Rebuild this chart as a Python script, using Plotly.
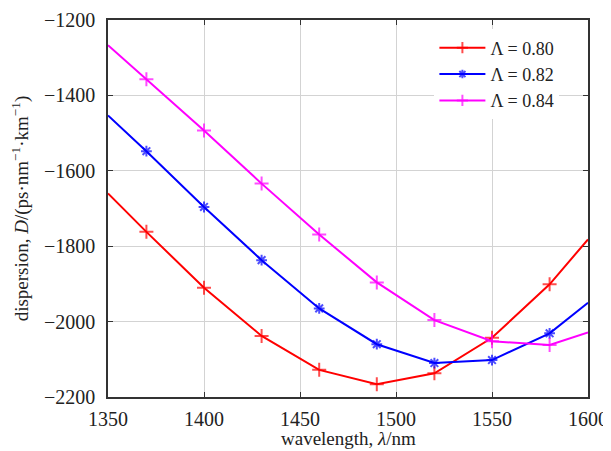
import plotly.graph_objects as go

wavelength = [1350, 1370, 1400, 1430, 1460, 1490, 1520, 1550, 1580, 1600]
d_080 = [-1660, -1762, -1910, -2038, -2128, -2166, -2137, -2043, -1901, -1782]
d_082 = [-1453, -1548, -1696, -1837, -1965, -2060, -2110, -2102, -2031, -1950]
d_084 = [-1267, -1357, -1493, -1634, -1769, -1896, -1996, -2052, -2062, -2029]

series = [
    ("Λ = 0.80", d_080, "#ff0000", "cross-thin-open", 10),
    ("Λ = 0.82", d_082, "#0000ff", "asterisk-open", 9),
    ("Λ = 0.84", d_084, "#ff00ff", "cross-thin-open", 10),
]

font = "Liberation Serif"
fig = go.Figure()
for name, ys, col, sym, sz in series:
    # no markers on the two end points (as in the reference)
    sizes = [0] + [sz] * (len(ys) - 2) + [0]
    fig.add_trace(go.Scatter(
        x=wavelength, y=ys, name=name, mode="lines+markers",
        line=dict(color=col, width=2),
        marker=dict(symbol=sym, size=sizes, color=col, line=dict(color=col, width=2)),
    ))

axis_common = dict(
    showgrid=True, gridcolor="#d3d3d3", gridwidth=1,
    showline=True, linecolor="#333333", linewidth=1.5, mirror="ticks",
    ticks="inside", ticklen=5, tickcolor="#333333",
    zeroline=False, automargin=False,
    tickfont=dict(family=font, size=20, color="#222"),
    title_font=dict(family=font, size=19, color="#222"),
)

fig.update_xaxes(range=[1350, 1600], dtick=50, ticklabelstandoff=3, **axis_common)
fig.update_yaxes(range=[-2200, -1200], dtick=200,
                 title_text="dispersion, <i>D</i>/(ps·nm<sup>−1</sup>·km<sup>−1</sup>)",
                 title_standoff=12, ticklabelstandoff=7, **axis_common)

# x-axis title as an annotation for exact placement
fig.add_annotation(text="wavelength, <i>λ</i>/nm", xref="paper", yref="paper",
                   x=0.5, y=0, xanchor="center", yanchor="top", yshift=-29,
                   showarrow=False, font=dict(family=font, size=19, color="#222"))

# page body has an 8px margin: figure is 603x443 placed at (8, 8)
fig.update_layout(
    width=603, height=443,
    margin=dict(l=100, r=23, t=12, b=54),
    plot_bgcolor="white", paper_bgcolor="white",
    font=dict(family=font, size=20, color="#222"),
    legend=dict(x=0.68, y=0.975, xanchor="left", yanchor="top",
                bgcolor="white", borderwidth=0,
                font=dict(family=font, size=18, color="#222"),
                tracegroupgap=0, itemwidth=46),
    showlegend=True,
)

fig.write_html("out.html")
